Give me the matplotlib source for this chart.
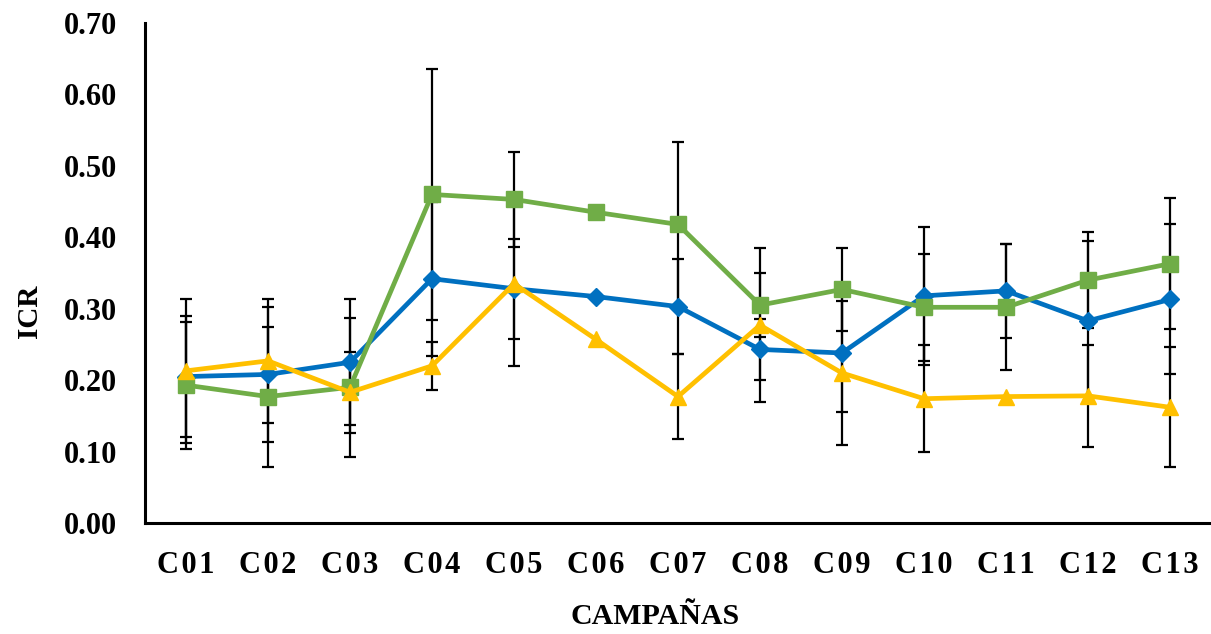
import numpy as np
import matplotlib.pyplot as plt

campaigns = ["C01", "C02", "C03", "C04", "C05", "C06", "C07",
             "C08", "C09", "C10", "C11", "C12", "C13"]

blue_vals = [0.205, 0.208, 0.225, 0.342, 0.328, 0.317, 0.303,
             0.243, 0.238, 0.318, 0.325, 0.283, 0.313]
blue_err = [0.085, 0.095, 0.088, 0.108, 0.070, 0.0, 0.067,
            0.043, 0.083, 0.097, 0.066, 0.112, 0.105]

green_vals = [0.193, 0.177, 0.190, 0.460, 0.453, 0.435, 0.418,
              0.305, 0.327, 0.302, 0.302, 0.340, 0.363]
green_err = [0.089, 0.098, 0.097, 0.176, 0.066, 0.0, 0.116,
             0.045, 0.058, 0.075, 0.088, 0.067, 0.092]

yellow_vals = [0.213, 0.227, 0.183, 0.220, 0.335, 0.257, 0.177,
               0.277, 0.210, 0.174, 0.177, 0.178, 0.162]
yellow_err = [0.101, 0.087, 0.057, 0.034, 0.115, 0.0, 0.060,
              0.108, 0.101, 0.075, 0.0, 0.071, 0.084]

series = [
    (blue_vals, blue_err, "#0070C0", "D", 9),
    (green_vals, green_err, "#70AD47", "s", 12),
    (yellow_vals, yellow_err, "#FFC000", "^", 11),
]

plt.rcParams['font.family'] = ['Liberation Serif', 'DejaVu Serif']
plt.rcParams['font.weight'] = 'bold'

fig = plt.figure(figsize=(12.11, 6.34), dpi=100)
ax = fig.add_axes([145 / 1211, 111 / 634, 1 - 145 / 1211, 500 / 634])

x = np.arange(len(campaigns))

# error bars first, lines and markers on top
for vals, err, color, marker, ms in series:
    e = np.array(err)
    mask = e > 0
    ax.errorbar(x[mask], np.array(vals)[mask], yerr=e[mask], fmt='none',
                ecolor='black', elinewidth=1.6, capsize=4.5, capthick=1.6,
                zorder=2)

for vals, err, color, marker, ms in series:
    ax.plot(x, vals, color=color, linewidth=3.4, marker=marker,
            markersize=ms, zorder=3)

ax.set_xlim(-0.5, len(campaigns) - 0.5)
ax.set_ylim(0, 0.70)
ax.set_yticks(np.arange(0, 0.71, 0.10))
ax.set_yticklabels([f"{v:.2f}" for v in np.arange(0, 0.71, 0.10)],
                   fontsize=22, fontweight='bold')
ax.set_xticks(x)
ax.set_xticklabels(["\u200a".join(c) for c in campaigns], fontsize=22,
                   fontweight='bold')
ax.tick_params(axis='both', length=0)
ax.tick_params(axis='y', pad=20)
ax.tick_params(axis='x', pad=20)

for side in ['top', 'right']:
    ax.spines[side].set_visible(False)
for side in ['left', 'bottom']:
    ax.spines[side].set_linewidth(2.2)
    ax.spines[side].set_color('black')

fig.text(30 / 1211, 1 - 311 / 634, "ICR", rotation=90, fontsize=21,
         fontweight='bold', ha='center', va='center')
fig.text(655 / 1211, 1 - 616 / 634, "CAMPAÑAS", fontsize=21.5,
         fontweight='bold', ha='center', va='center')

fig.savefig("out.png", dpi=100)
